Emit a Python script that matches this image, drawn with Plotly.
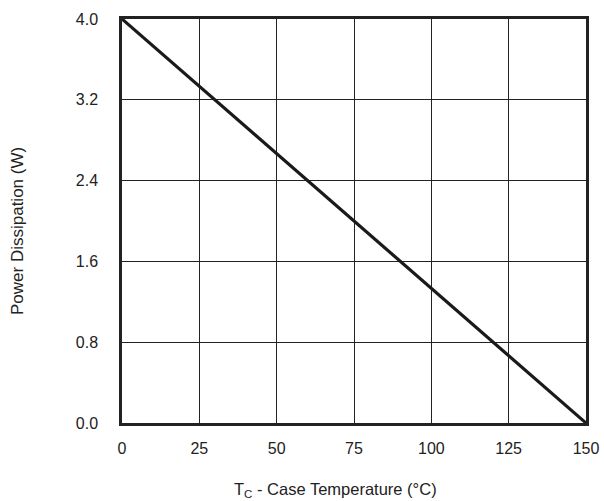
import plotly.graph_objects as go

temperature = [0, 150]
power = [4.0, 0.0]
x_ticks = [0, 25, 50, 75, 100, 125, 150]
y_ticks = [0.0, 0.8, 1.6, 2.4, 3.2, 4.0]
y_tick_text = ["0.0", "0.8", "1.6", "2.4", "3.2", "4.0"]
x_title = "T<sub>C</sub> - Case Temperature (°C)"
y_title = "Power Dissipation (W)"

fig = go.Figure()
fig.add_trace(go.Scatter(x=temperature, y=power, mode="lines",
                         line=dict(color="#1a1a1a", width=3.2), showlegend=False))

font = dict(family="Liberation Sans, Arial, sans-serif", size=16, color="#222")
fig.update_layout(
    width=604, height=501,
    margin=dict(l=122, r=18, t=19, b=78, autoexpand=False),
    paper_bgcolor="white", plot_bgcolor="white",
    font=font,
    xaxis=dict(range=[0, 150], tickvals=x_ticks, showgrid=True, gridcolor="#222", gridwidth=1,
               showline=True, linecolor="#222", linewidth=2.5, mirror=True,
               ticks="", ticklabelstandoff=9, zeroline=False, automargin=False),
    yaxis=dict(range=[0, 4.0], tickvals=y_ticks, ticktext=y_tick_text, showgrid=True, gridcolor="#222",
               gridwidth=1, showline=True, linecolor="#222", linewidth=2.5, mirror=True,
               ticks="", ticklabelstandoff=18, zeroline=False, automargin=False),
    annotations=[
        dict(text=x_title, xref="paper", yref="paper", x=(335 - 122) / 464, y=0,
             xanchor="center", yanchor="middle", yshift=-67, showarrow=False,
             font=dict(size=16.5)),
        dict(text=y_title, xref="paper", yref="paper", x=0, y=(423 - 231) / 404,
             xanchor="center", yanchor="middle", xshift=-105, textangle=-90, showarrow=False,
             font=dict(size=17)),
    ],
)
fig.write_html("out.html", post_script="document.body.style.margin='0';",
               config={"displayModeBar": False})
